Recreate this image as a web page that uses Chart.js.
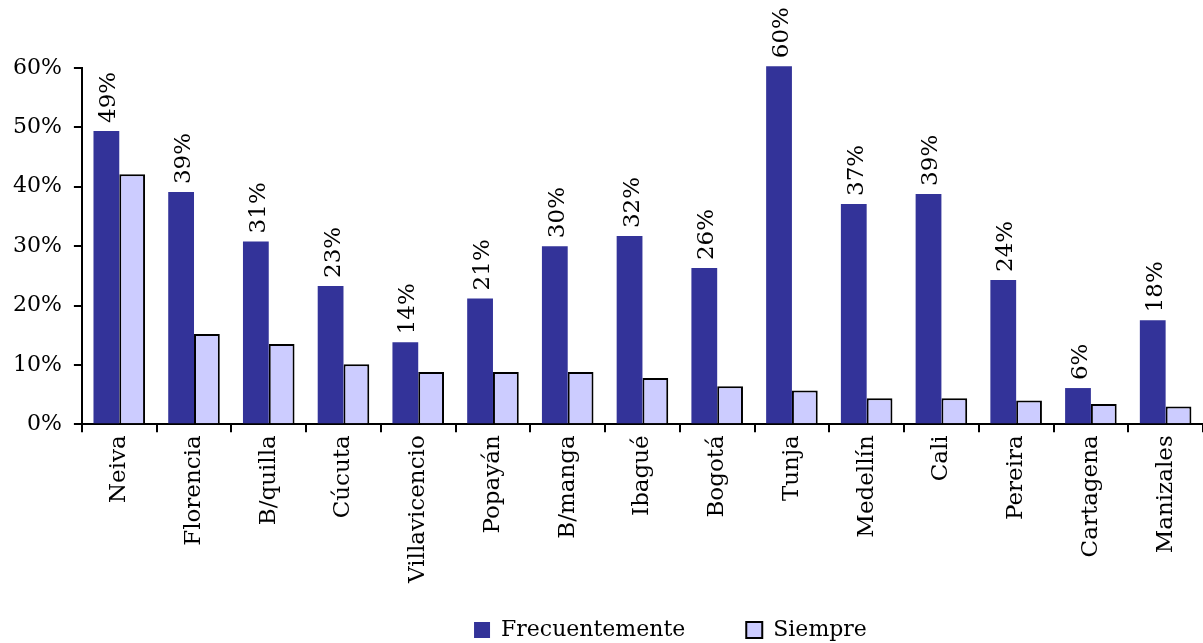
<!DOCTYPE html>
<html>
<head>
<meta charset="utf-8">
<script src="https://cdn.jsdelivr.net/npm/chart.js@4/dist/chart.umd.min.js"></script>
<style>
  html, body { margin: 0; padding: 0; background: #fff; }
  #wrap { width: 1203px; height: 643px; }
</style>
</head>
<body>
<div id="wrap"><canvas id="chart"></canvas></div>
<script>
const cities = ["Neiva", "Florencia", "B/quilla", "Cúcuta", "Villavicencio", "Popayán", "B/manga",
  "Ibagué", "Bogotá", "Tunja", "Medellín", "Cali", "Pereira", "Cartagena", "Manizales"];
const frecuentemente = [49.4, 39.1, 30.8, 23.3, 13.8, 21.2, 30.0, 31.7, 26.3, 60.3, 37.1, 38.8, 24.3, 6.1, 17.5];
const siempre = [42.1, 15.2, 13.5, 10.1, 8.8, 8.8, 8.8, 7.8, 6.4, 5.7, 4.4, 4.4, 4.0, 3.4, 3.0];
const yTicks = [0, 10, 20, 30, 40, 50, 60];

const FONT = "'DejaVu Serif', serif";

// rotated value labels above the first series
const barLabels = {
  id: "barLabels",
  afterDatasetsDraw(chart) {
    const ctx = chart.ctx;
    const meta = chart.getDatasetMeta(0);
    ctx.save();
    ctx.font = "23px " + FONT;
    ctx.fillStyle = "#000";
    ctx.textAlign = "left";
    ctx.textBaseline = "middle";
    meta.data.forEach((bar, i) => {
      ctx.save();
      ctx.translate(bar.x + 3, bar.y - 8);
      ctx.rotate(-Math.PI / 2);
      ctx.fillText(Math.round(frecuentemente[i]) + "%", 0, 0);
      ctx.restore();
    });
    ctx.restore();
  }
};

// the legend sits a little right of centre in the original
const legendShift = {
  id: "legendShift",
  afterLayout(chart) {
    chart.legend.left += 28;
    chart.legend.right += 28;
  }
};

new Chart(document.getElementById("chart"), {
  type: "bar",
  data: {
    labels: cities,
    datasets: [
      {
        label: "Frecuentemente",
        data: frecuentemente,
        backgroundColor: "#333399",
        borderWidth: 0,
        clip: false
      },
      {
        label: "Siempre",
        data: siempre,
        backgroundColor: "#CCCCFF",
        borderColor: "#000",
        borderWidth: 2,
        clip: false
      }
    ]
  },
  options: {
    responsive: true,
    maintainAspectRatio: false,
    animation: false,
    devicePixelRatio: 1,
    categoryPercentage: 0.69,
    barPercentage: 1,
    layout: { padding: { top: 68, right: 0, left: 1, bottom: -8 } },
    plugins: {
      legend: {
        position: "bottom",
        fullSize: false,
        labels: {
          font: { family: FONT, size: 22 },
          color: "#000",
          boxWidth: 16,
          boxHeight: 16,
          padding: 33,
          useBorderRadius: false,
          generateLabels(chart) {
            const items = Chart.defaults.plugins.legend.labels.generateLabels(chart);
            // widen the gap after the first entry
            items[0].text += "    ";
            items[0].lineWidth = 0;
            return items;
          }
        }
      },
      tooltip: { enabled: false }
    },
    scales: {
      x: {
        grid: { display: true, drawOnChartArea: false, offset: true, tickLength: 8, color: "#000", lineWidth: 2 },
        border: { color: "#000", width: 2 },
        ticks: {
          font: { family: FONT, size: 23 },
          color: "#000",
          maxRotation: 90,
          minRotation: 90,
          padding: 3
        }
      },
      y: {
        min: 0,
        max: 60,
        afterBuildTicks(axis) { axis.ticks = yTicks.map(v => ({ value: v })); },
        grid: { display: true, drawOnChartArea: false, tickLength: 8, color: "#000", lineWidth: 2 },
        border: { color: "#000", width: 2 },
        ticks: {
          font: { family: FONT, size: 22 },
          color: "#000",
          padding: 12,
          callback: v => v + "%"
        }
      }
    }
  },
  plugins: [barLabels, legendShift]
});
</script>
</body>
</html>
